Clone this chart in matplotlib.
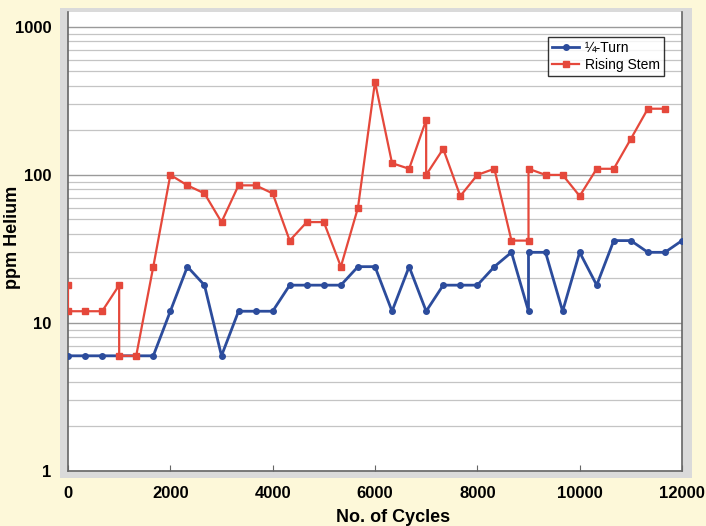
import matplotlib
matplotlib.use('Agg')
import matplotlib.pyplot as plt
from matplotlib.patches import Rectangle

plt.rcParams['font.family'] = ['Liberation Sans', 'DejaVu Sans']

# quarter-turn valve readings
turn_cycles = [0, 333, 667, 1000, 1333, 1667, 2000, 2333, 2667, 3000, 3333, 3667,
               4000, 4333, 4667, 5000, 5333, 5667, 6000, 6333, 6667, 7000, 7333,
               7667, 8000, 8333, 8667, 9000, 9000, 9333, 9667, 10000, 10333,
               10667, 11000, 11333, 11667, 12000]
turn_ppm = [6, 6, 6, 6, 6, 6, 12, 24, 18, 6, 12, 12, 12, 18, 18, 18, 18, 24, 24,
            12, 24, 12, 18, 18, 18, 24, 30, 12, 30, 30, 12, 30, 18, 36, 36, 30,
            30, 36]

# rising stem valve readings
stem_cycles = [0, 0, 333, 667, 1000, 1000, 1333, 1667, 2000, 2333, 2667, 3000,
               3333, 3667, 4000, 4333, 4667, 5000, 5333, 5667, 6000, 6333, 6667,
               7000, 7000, 7333, 7667, 8000, 8333, 8667, 9000, 9000, 9333, 9667,
               10000, 10333, 10667, 11000, 11333, 11667]
stem_ppm = [18, 12, 12, 12, 18, 6, 6, 24, 100, 85, 75, 48, 85, 85, 75, 36, 48, 48,
            24, 60, 425, 120, 110, 235, 100, 150, 72, 100, 110, 36, 36, 110, 100,
            100, 72, 110, 110, 175, 280, 280]

x_ticks = [0, 2000, 4000, 6000, 8000, 10000, 12000]
y_ticks = [1, 10, 100, 1000]

bg = '#fdf8d9'
fig = plt.figure(figsize=(7.06, 5.26), dpi=100, facecolor=bg)

# grey frame behind the plot area
frame = fig.add_axes([0, 0, 1, 1], zorder=0)
frame.axis('off')
frame.set_xlim(0, 1)
frame.set_ylim(0, 1)
frame.add_patch(Rectangle((60/706, 1 - 478/526), 632/706, 470/526,
                          facecolor='#dadada', edgecolor='none'))

ax = fig.add_axes([68/706, 1 - 471/526, 614/706, 459/526], zorder=1)
ax.set_facecolor('white')

ax.plot(turn_cycles, turn_ppm, color='#2c4c9c', lw=2.0, marker='o', ms=4,
        label='\u00bc-Turn', zorder=3)
ax.plot(stem_cycles, stem_ppm, color='#e5483b', lw=1.6, marker='s', ms=4.5,
        label='Rising Stem', zorder=3)

ax.set_yscale('log')
ax.set_ylim(1, 1260)
ax.set_xlim(0, 12000)
ax.set_xticks(x_ticks)
ax.set_yticks(y_ticks)
ax.set_yticklabels([str(v) for v in y_ticks])
ax.yaxis.set_minor_formatter(plt.NullFormatter())

ax.grid(True, which='major', axis='y', color='#9a9a9a', lw=1.0)
ax.grid(True, which='minor', axis='y', color='#c4c4c4', lw=0.9)
ax.set_axisbelow(True)

for s in ['left', 'right', 'bottom']:
    ax.spines[s].set_color('#666666')
    ax.spines[s].set_linewidth(1.2)
ax.spines['top'].set_visible(False)

ax.tick_params(axis='y', which='both', length=0, pad=12, labelsize=12)
ax.tick_params(axis='x', direction='in', length=4, color='#666666', pad=11,
               labelsize=12)
for lab in ax.get_xticklabels() + ax.get_yticklabels():
    lab.set_fontweight('bold')

ax.set_xlabel('No. of Cycles', fontsize=13, fontweight='bold')
ax.xaxis.set_label_coords(0.529, -0.083)
ax.set_ylabel('ppm Helium', fontsize=13, fontweight='bold')
ax.yaxis.set_label_coords(-0.077, 0.508)

leg = ax.legend(loc='upper right', bbox_to_anchor=(0.971, 0.9455), fontsize=10,
                frameon=True, fancybox=False, edgecolor='black', handlelength=2,
                borderpad=0.3, labelspacing=0.2, handletextpad=0.4,
                borderaxespad=0)
leg.get_frame().set_linewidth(1.0)

fig.savefig('out.png', dpi=100, facecolor=bg)
